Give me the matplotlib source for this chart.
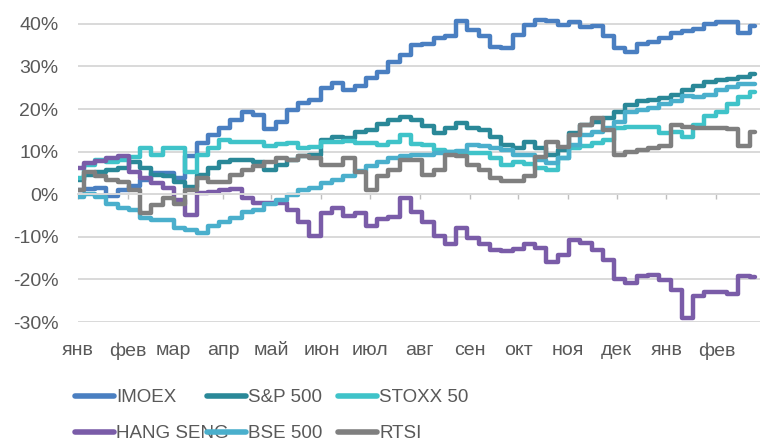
import matplotlib
matplotlib.use("Agg")
import matplotlib.pyplot as plt
import matplotlib.dates as mdates
import pandas as pd
from matplotlib.ticker import FixedLocator, FuncFormatter

plt.rcParams['font.family'] = ['Liberation Sans', 'DejaVu Sans']

# weekly observations, cumulative change in %
dates = pd.date_range('2021-01-01', periods=61, freq='7D')

imoex = [1.0, 1.2, 1.5, -0.4, 1.0, 1.9, 3.4, 5.0, 5.0, 3.8,
         9.0, 12.1, 13.9, 15.6, 17.5, 19.3, 18.6, 15.3, 17.0, 19.8,
         21.4, 22.2, 25.0, 26.1, 24.5, 25.4, 27.3, 28.7, 31.1, 32.7,
         35.1, 35.3, 36.7, 37.2, 40.7, 38.6, 37.2, 34.6, 34.4, 37.4,
         39.8, 40.9, 40.7, 39.8, 40.5, 39.3, 39.5, 37.2, 34.4, 33.4,
         35.3, 35.8, 36.7, 37.9, 38.4, 38.8, 40.0, 40.5, 40.5, 37.9, 39.5]

sp500 = [3.4, 4.5, 5.2, 5.7, 6.2, 7.6, 6.2, 4.5, 4.3, 2.9,
         1.7, 4.5, 6.2, 7.6, 8.1, 8.1, 7.6, 5.7, 6.9, 8.1,
         9.0, 9.2, 12.8, 13.5, 13.2, 14.6, 15.1, 16.5, 17.5, 18.2,
         17.5, 16.0, 14.4, 15.6, 16.7, 15.6, 15.1, 13.5, 11.6, 10.9,
         12.3, 10.9, 9.2, 10.4, 14.4, 16.3, 17.0, 17.9, 19.3, 21.0,
         21.9, 22.2, 22.6, 23.3, 24.5, 25.4, 26.4, 26.8, 27.1, 27.6, 28.3]

stoxx50 = [3.8, 6.9, 8.1, 7.6, 8.1, 8.8, 10.9, 9.2, 10.9, 10.9,
           5.2, 9.2, 10.9, 12.8, 12.3, 12.3, 12.3, 11.3, 11.8, 12.1,
           10.9, 11.1, 12.3, 12.3, 12.5, 12.1, 12.1, 11.6, 12.3, 13.9,
           11.8, 11.6, 10.4, 9.9, 9.7, 9.7, 9.7, 8.5, 6.9, 7.6,
           7.1, 6.2, 5.7, 8.5, 10.9, 11.3, 12.1, 12.8, 15.6, 15.8,
           15.8, 15.8, 14.4, 14.6, 13.5, 16.3, 18.4, 19.3, 21.2, 22.9, 24.0]

hang_seng = [6.2, 7.4, 7.8, 8.5, 9.0, 5.2, 3.8, 2.7, 1.5, -1.3,
             -4.9, 0.3, 0.5, 1.0, 1.2, -0.9, -2.0, -2.0, -2.0, -3.7,
             -6.5, -9.8, -4.4, -3.2, -5.1, -4.4, -7.4, -5.8, -5.3, -0.9,
             -4.2, -6.5, -9.8, -11.7, -7.9, -10.3, -11.7, -13.1, -13.3, -12.8,
             -11.7, -12.6, -15.9, -14.3, -10.7, -11.4, -13.1, -15.4, -19.9, -20.8,
             -19.2, -19.0, -20.1, -22.5, -29.1, -23.9, -23.0, -23.0, -23.4, -19.2, -19.4]

bse500 = [-0.6, 0.1, -0.6, -2.3, -3.2, -3.7, -5.6, -6.0, -6.0, -7.9,
          -8.4, -9.1, -7.4, -6.5, -5.6, -4.2, -3.7, -2.3, -1.3, -0.2,
          1.0, 1.5, 2.7, 3.4, 4.3, 5.5, 6.7, 7.6, 8.5, 9.0,
          9.2, 9.2, 9.7, 9.9, 10.2, 11.6, 11.3, 10.9, 10.4, 9.2,
          9.2, 8.1, 7.4, 8.5, 11.6, 13.9, 14.6, 15.6, 17.0, 19.3,
          19.8, 20.3, 21.2, 21.9, 23.1, 22.9, 23.3, 24.5, 25.2, 25.9, 25.9]

rtsi = [1.0, 5.2, 4.3, 3.4, 2.9, 1.0, -4.4, -2.5, -0.9, -2.3,
        1.0, 3.8, 2.9, 2.9, 4.5, 5.7, 6.6, 7.6, 8.5, 8.1,
        9.0, 8.5, 6.9, 6.9, 8.5, 5.2, 1.0, 4.3, 5.7, 8.1,
        8.1, 4.5, 5.7, 9.2, 9.0, 6.9, 5.7, 3.8, 3.1, 3.1,
        4.3, 8.8, 12.3, 11.1, 13.9, 16.3, 17.9, 15.1, 9.2, 9.9,
        10.4, 10.9, 11.3, 16.3, 15.8, 15.6, 15.6, 15.6, 15.3, 11.3, 14.6]

series_names = ['IMOEX', 'S&P 500', 'STOXX 50', 'HANG SENG', 'BSE 500', 'RTSI']
series_values = [imoex, sp500, stoxx50, hang_seng, bse500, rtsi]
colors = ['#4a7fc1', '#2a8898', '#3fc3c9', '#7a5ca8', '#4aafcc', '#7f7f7f']

month_ticks = pd.date_range('2021-01-01', '2022-02-01', freq='MS')
month_labels = ['янв', 'фев', 'мар', 'апр', 'май', 'июн', 'июл',
                'авг', 'сен', 'окт', 'ноя', 'дек', 'янв', 'фев']
y_ticks = [-30, -20, -10, 0, 10, 20, 30, 40]

fig = plt.figure(figsize=(7.6, 4.44), dpi=100)
ax = fig.add_axes([78 / 760, 1 - 322 / 444, 682 / 760, 322 / 444])

lines = []
for name, vals, col in zip(series_names, series_values, colors):
    ln, = ax.plot(dates, vals, color=col, lw=3.2, label=name,
                  drawstyle='steps-mid', solid_joinstyle='round',
                  solid_capstyle='round')
    lines.append(ln)

ax.set_xlim(pd.Timestamp('2021-01-01'), pd.Timestamp('2022-02-28'))
ax.set_ylim(-30, 45.6)

ax.yaxis.set_major_locator(FixedLocator(y_ticks))
ax.yaxis.set_major_formatter(FuncFormatter(lambda v, p: f'{int(round(v))}%'))
ax.grid(axis='y', color='#d9d9d9', lw=1.4)
ax.set_axisbelow(True)
ax.tick_params(axis='y', length=0, pad=14, labelsize=14, labelcolor='#595959')

ax.set_xticks(mdates.date2num(month_ticks))
ax.set_xticklabels(month_labels)
ax.tick_params(axis='x', direction='out', length=3.6, width=1.0, color='#bfbfbf',
               pad=103, labelsize=14, labelcolor='#595959')

for s in ['top', 'right', 'left']:
    ax.spines[s].set_visible(False)
ax.spines['bottom'].set_position(('data', 0))
ax.spines['bottom'].set_color('#d9d9d9')
ax.spines['bottom'].set_linewidth(1.4)

# legend: three columns of two entries
col_x = [75, 207, 338]
for i, cx in enumerate(col_x):
    hs = [lines[i], lines[i + 3]]
    leg = fig.legend(hs, [h.get_label() for h in hs], loc='upper left',
                     bbox_to_anchor=(cx / 760, 1 - 389 / 444),
                     frameon=False, fontsize=13.5, handlelength=2.1,
                     handletextpad=0.1, borderpad=0, borderaxespad=0,
                     labelspacing=1.02, labelcolor='#595959')
    for lh in leg.get_lines():
        lh.set_linewidth(4)

fig.savefig('out.png', dpi=100)
